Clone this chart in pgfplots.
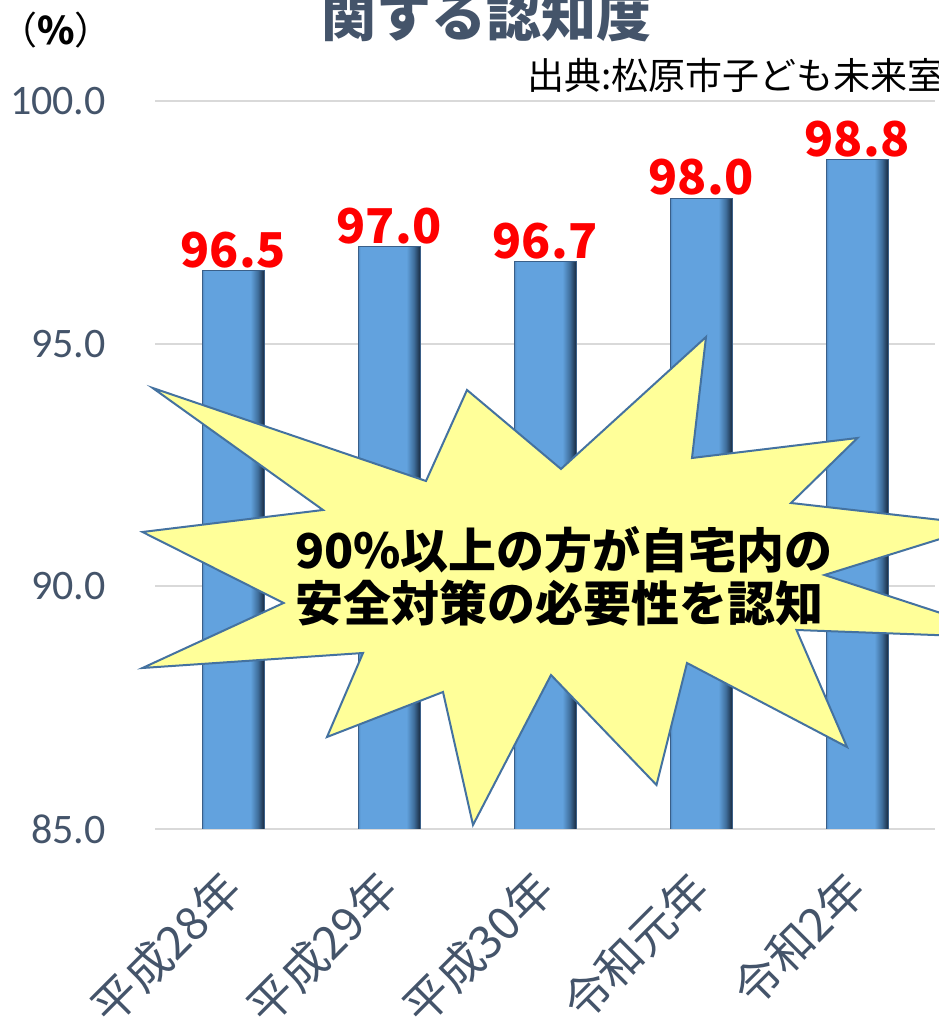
\documentclass[border=0pt]{standalone}
\usepackage{fontspec}
\usepackage{pgfplots}
\pgfplotsset{compat=1.18}
\newfontfamily\carlito{Carlito}
\newfontfamily\cjk{Noto Sans CJK JP}
\definecolor{slate}{HTML}{44546A}
\definecolor{gridc}{HTML}{D9D9D9}
\definecolor{barL}{HTML}{4F86BE}
\definecolor{barM}{HTML}{62A2DE}
\definecolor{barD}{HTML}{3F6E9C}
\definecolor{barD2}{HTML}{1A2C42}
\definecolor{barEdge}{HTML}{3A5F88}
\definecolor{starfill}{HTML}{FFFF99}
\definecolor{starline}{HTML}{4472A0}
\pgfdeclarehorizontalshading{barshade}{100bp}{color(0bp)=(barL); color(25bp)=(barL); color(27bp)=(barM); color(64bp)=(barM); color(70bp)=(barD); color(75bp)=(barD2); color(100bp)=(barD2)}
\pgfplotsset{barstyle/.style={draw=barEdge, line width=0.8pt, shade, shading=barshade}}
\begin{document}
\begin{tikzpicture}[x=1pt,y=1pt]
\path[use as bounding box] (0,0) rectangle (938,1032);
\begin{axis}[
  at={(155pt,203pt)}, anchor=south west,
  scale only axis, width=780pt, height=728pt,
  ymin=85, ymax=100, ytick={85,90,95,100},
  xmin=-0.5, xmax=4.5, xtick={0,1,2,3,4},
  xticklabels={平成28年,平成29年,平成30年,令和元年,令和2年},
  axis line style={draw=none}, major tick length=0pt,
  ymajorgrids, grid style={gridc, line width=2pt},
  /pgf/number format/assume math mode=true,
  yticklabel style={/pgf/number format/fixed, /pgf/number format/fixed zerofill, /pgf/number format/precision=1,
    font=\fontsize{42}{42}\selectfont\carlito, text=slate, inner sep=0pt, anchor=east, xshift=-49pt},
  xticklabel style={font=\fontsize{46}{46}\selectfont\cjk, text=slate, inner sep=0pt, yshift=-52pt, xshift=0pt, rotate=45, anchor=east},
  ybar, bar width=62pt, bar shift=0pt,
  nodes near coords={\pgfmathprintnumber[fixed,fixed zerofill,precision=1,assume math mode=true]{\pgfplotspointmeta}},
  nodes near coords style={font=\fontsize{48}{48}\selectfont\cjk\bfseries, text=red, anchor=south, inner sep=0pt, yshift=2pt},
]
\addplot[barstyle] coordinates {(0,96.5)};
\addplot[barstyle] coordinates {(1,97.0)};
\addplot[barstyle] coordinates {(2,96.7)};
\addplot[barstyle] coordinates {(3,98.0)};
\addplot[barstyle] coordinates {(4,98.8)};
\end{axis}
\draw[starline, line width=2pt, fill=starfill, line join=miter]
  (152.7,644) -- (426,551) -- (467,642) -- (561,563) -- (706,695) -- (692,574) -- (857.5,594) -- (791,529)
  -- (985,507) -- (824.5,457) -- (1017,394) -- (796.5,402) -- (847,285) -- (687,369) -- (656.5,247)
  -- (551,357) -- (473,207) -- (443,340) -- (327,295) -- (363,379) -- (142.5,364) -- (283.5,429)
  -- (142.5,500) -- (323,522) -- cycle;
\node[anchor=west, inner sep=0pt, font=\fontsize{48}{48}\selectfont\cjk\bfseries] at (295,482) {90\%以上の方が自宅内の};
\node[anchor=west, inner sep=0pt, font=\fontsize{48}{48}\selectfont\cjk\bfseries] at (295,429) {安全対策の必要性を認知};
\node[inner sep=0pt, text=slate, font=\fontsize{55}{55}\selectfont\cjk\bfseries] at (486,1016) {関する認知度};
\node[inner sep=0pt, font=\fontsize{38}{38}\selectfont\cjk] at (56,1002) {（{\bfseries\%}）};
\node[anchor=west, inner sep=0pt, font=\fontsize{37}{37}\selectfont\cjk] at (527,957) {出典:松原市子ども未来室};
\end{tikzpicture}
\end{document}
